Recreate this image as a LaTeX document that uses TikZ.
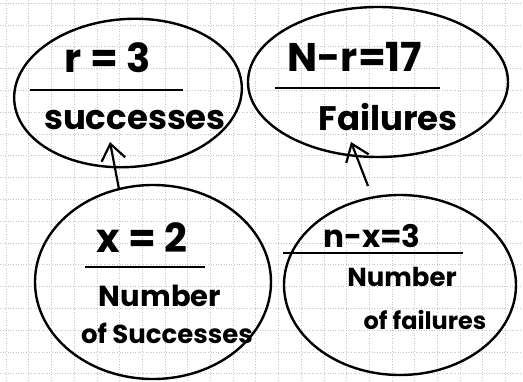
\documentclass[tikz,border=0pt]{standalone}
\usepackage{fontspec}
\setmainfont{Poppins}
\usetikzlibrary{shapes.geometric,arrows.meta}
\tikzset{
  gridline/.style={gray!45, dotted, line width=0.6pt},
  bubble/.style={ellipse, draw=black, line width=2.4pt, inner sep=0pt},
  rule/.style={black, line width=2.6pt},
  pointer/.style={black, line width=2.2pt, -{Straight Barb[length=16pt,width=24pt,line width=2.2pt]}},
  lbl/.style={inner sep=0pt, text=black},
}
\newcommand{\fs}[1]{\fontsize{#1}{#1}\selectfont\bfseries}
\begin{document}
\begin{tikzpicture}[x=1pt,y=-1pt]
\useasboundingbox (0,0) rectangle (523,381);
\fill[white] (0,0) rectangle (523,381);
% graph paper
\foreach \i in {0,...,22} {\draw[gridline] ({6+22.7*\i},0) -- ({6+22.7*\i},381);}
\foreach \j in {0,...,17} {\draw[gridline] (0,{3+21.8*\j}) -- (523,{3+21.8*\j});}
% ellipses
\node[bubble, minimum width=228pt, minimum height=148pt, rotate=4] (tl) at (128,93) {};
\node[bubble, minimum width=260pt, minimum height=150pt] (tr) at (378,82) {};
\node[bubble, minimum width=236pt, minimum height=194pt] (bl) at (153,282) {};
\node[bubble, minimum width=232pt, minimum height=180pt] (br) at (400,285) {};
% top-left text
\node[lbl, font=\fs{40}] (t1) at (108,58) {r = 3};
\draw[rule] (30,90) -- (183,90);
\node[lbl, font=\fs{34}] (t2) at (135,120) {successes};
% top-right text
\node[lbl, font=\fs{40}] (t3) at (355,57) {N-r=17};
\draw[rule] (275,88) -- (440,88);
\node[lbl, font=\fs{34}] (t4) at (388,117) {Failures};
% bottom-left text
\node[lbl, font=\fs{40}] (t5) at (142,238) {x = 2};
\draw[rule] (85,267) -- (205,267);
\node[lbl, font=\fs{29}] (t6) at (160,296) {Number};
\node[lbl, font=\fs{26}] (t7) at (167,333) {of Successes};
% bottom-right text
\node[lbl, font=\fs{31}] (t8) at (372,236) {n-x=3};
\draw[rule] (283,253) -- (463,253);
\node[lbl, font=\fs{26}] (t9) at (402,277) {Number};
\node[lbl, font=\fs{24}] (t10) at (425,320) {of failures};
% arrows
\coordinate (tip1) at (110,142);
\coordinate (tip2) at (351,142);
\coordinate (tail2) at (368,186);
\draw[pointer] (bl.110) -- (tip1);
\draw[pointer] (tail2) -- (tip2);
\end{tikzpicture}
\end{document}
